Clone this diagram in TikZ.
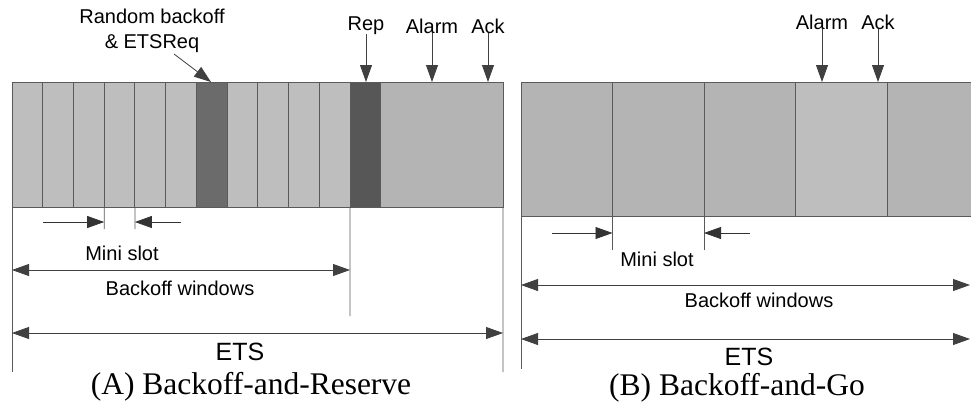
\documentclass[tikz,border=0pt]{standalone}
\usepackage{fontspec}
\setmainfont{Liberation Serif}
\setsansfont{Liberation Sans}
\usetikzlibrary{arrows.meta}
\definecolor{lightc}{HTML}{BEBEBE}
\definecolor{midc}{HTML}{B4B4B4}
\definecolor{darkA}{HTML}{6B6B6B}
\definecolor{darkB}{HTML}{575757}
\definecolor{edgec}{HTML}{5A5A5A}
\begin{document}
\begin{tikzpicture}[x=1pt,y=-1pt,
  lbl/.style={font=\sffamily\fontsize{20}{24.5}\selectfont, inner sep=0, align=center},
  bigl/.style={font=\sffamily\fontsize{25}{30}\selectfont, inner sep=0},
  capt/.style={font=\rmfamily\fontsize{31.5}{36}\selectfont, inner sep=0},
  slotbox/.style={draw=edgec, line width=1pt, inner sep=0, outer sep=0, anchor=north west},
  arr/.style={draw=black!75, line width=0.8pt, -{Triangle[length=17pt,width=12pt]}},
  msarr/.style={draw=black!80, line width=0.8pt, -{Triangle[length=17pt,width=12pt]}},
  dimarr/.style={draw=black!75, line width=0.8pt, {Triangle[length=17pt,width=12pt]}-{Triangle[length=17pt,width=12pt]}},
  guide/.style={draw=black!65, line width=0.8pt}]
\useasboundingbox (0,0) rectangle (971,413);
\clip (0,0) rectangle (971,413);
\fill[white] (0,0) rectangle (971,413);

% ---------------- (A) Backoff-and-Reserve ----------------
\foreach \i/\c in {0/lightc,1/lightc,2/lightc,3/lightc,4/lightc,5/lightc,6/darkA,7/lightc,8/lightc,9/lightc,10/lightc,11/darkB}
  \node[slotbox, fill=\c, minimum width=30.73pt, minimum height=125pt] (a\i) at ({12+\i*30.73},82) {};
\node[slotbox, fill=midc, minimum width=122.2pt, minimum height=125pt] (a12) at (380.8,82) {};

\node[lbl] (rb) at (152,31) {Random backoff\\\& ETSReq};
\coordinate (rbtip) at (211,82);
\coordinate (rbstart) at (174,54);
\draw[arr] (rbstart) -- (rbtip);

\node[lbl] (rep) at (366,26) {Rep};
\node[lbl] (alA) at (432,26) {Alarm};
\node[lbl] (ackA) at (488,26) {Ack};
\coordinate (repT) at (366,82);
\coordinate (alAT) at (432,82);
\coordinate (ackAT) at (488,82);
\draw[arr] (rep.south) ++(0,-1) -- (repT);
\draw[arr] (alA.south) ++(0,-1) -- (alAT);
\draw[arr] (ackA.south) ++(0,-1) -- (ackAT);

\coordinate (aLb) at (12,372);
\coordinate (aRb) at (503,372);
\coordinate (m1b) at (104.2,229);
\coordinate (m2b) at (134.9,229);
\coordinate (bwb) at (350,316);
\draw[guide] (a0.south west) -- (aLb);
\draw[guide] (a12.south east) -- (aRb);
\draw[guide] (a3.south west) -- (m1b);
\draw[guide] (a4.south west) -- (m2b);
\draw[guide] (a11.south west) -- (bwb);

\coordinate (m1s) at (43,222);
\coordinate (m1e) at (104.2,222);
\coordinate (m2s) at (181,222);
\coordinate (m2e) at (134.9,222);
\draw[msarr] (m1s) -- (m1e);
\draw[msarr] (m2s) -- (m2e);
\node[lbl] (msA) at (122,253) {Mini slot};

\coordinate (bwL) at (12,270);
\coordinate (bwR) at (350,270);
\draw[dimarr] (bwL) -- (bwR);
\node[lbl] (bwA) at (180,288) {Backoff windows};

\coordinate (etL) at (12,333);
\coordinate (etR) at (503,333);
\draw[dimarr] (etL) -- (etR);
\node[bigl] (etsA) at (240,352) {ETS};

\node[capt] (capA) at (251,387) {(A) Backoff-and-Reserve};

% ---------------- (B) Backoff-and-Go ----------------
\foreach \i/\c in {0/midc,1/midc,2/midc,3/lightc,4/midc}
  \node[slotbox, fill=\c, minimum width=91.5pt, minimum height=134pt] (b\i) at ({521+\i*91.5},82) {};

\node[lbl] (alB) at (822,22) {Alarm};
\node[lbl] (ackB) at (878,22) {Ack};
\coordinate (alBT) at (822,82);
\coordinate (ackBT) at (878,82);
\draw[arr] (alB.south) ++(0,-1) -- (alBT);
\draw[arr] (ackB.south) ++(0,-1) -- (ackBT);

\coordinate (bLb) at (521,369);
\coordinate (n1b) at (612.5,250);
\coordinate (n2b) at (704,250);
\draw[guide] (b0.south west) -- (bLb);
\draw[guide] (b0.south east) -- (n1b);
\draw[guide] (b1.south east) -- (n2b);

\coordinate (n1s) at (552,233);
\coordinate (n1e) at (612.5,233);
\coordinate (n2s) at (750,233);
\coordinate (n2e) at (704,233);
\draw[msarr] (n1s) -- (n1e);
\draw[msarr] (n2s) -- (n2e);
\node[lbl] (msB) at (657,259) {Mini slot};

\coordinate (bwBL) at (521,285);
\coordinate (bwBR) at (970,285);
\draw[dimarr] (bwBL) -- (bwBR);
\node[lbl] (bwB) at (759,300) {Backoff windows};

\coordinate (etBL) at (521,339);
\coordinate (etBR) at (970,339);
\draw[dimarr] (etBL) -- (etBR);
\node[bigl] (etsB) at (749,357) {ETS};

\node[capt] (capB) at (737,388) {(B) Backoff-and-Go};
\end{tikzpicture}
\end{document}
